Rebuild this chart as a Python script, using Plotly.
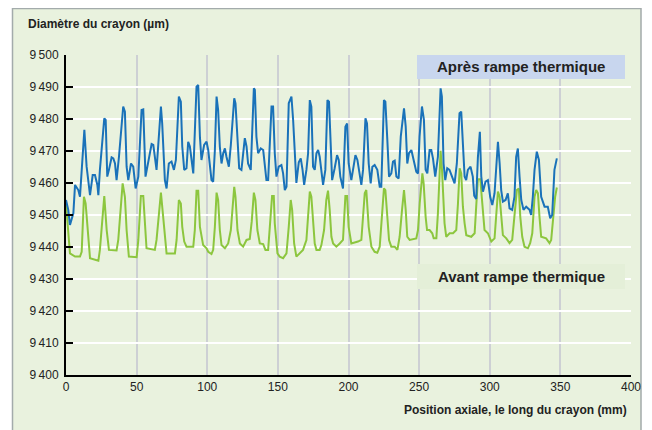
import plotly.graph_objects as go

# Position axiale (mm) et diamètre (µm) — après rampe thermique
apres_x = [0, 1.6, 2.8, 5.2, 6.4, 8.7, 9.9, 11.1, 13, 14.6, 15.8, 17, 18.9, 20.5, 22.2, 22.9, 24, 27.1, 28.1, 29.2,
           30.4, 32.3, 33.5, 34.7, 35.8, 37.5, 40.5, 41.7, 42.9, 44.1, 46, 47.6, 49.3, 51.2, 53.5, 54.7, 56.3, 58.2,
           60.6, 61.8, 62.9, 64.1, 67.2, 68.1, 70, 71.2, 72.8, 74.7, 76.4, 77.8, 79.9, 81.3, 82.3, 83.7, 85.3, 86.5,
           87.7, 88.9, 90.1, 92.4, 93.6, 94.8, 95.9, 97.8, 99.5, 100.7, 101.8, 103, 104.2, 105.4, 106.6, 107.7, 108.9,
           110.1, 111.3, 112.5, 113.6, 115.3, 116.7, 119.1, 120, 121.2, 122.6, 124.2, 125.4, 126.6, 127.8, 128.9,
           130.8, 133, 133.7, 134.8, 136, 137.9, 139.6, 140.7, 141.9, 143.1, 145.5, 146.6, 147.8, 149, 150.6, 152.5,
           153.7, 154.9, 156.1, 157.7, 159.6, 160.8, 162, 163.1, 164.8, 166.2, 167.5, 168.6, 170.2, 171.4, 172.6,
           173.7, 174.9, 176.1, 177.3, 178.5, 179.6, 180.8, 182, 183.6, 185.1, 186.2, 187.4, 188.4, 190.2, 191.9,
           193.1, 194.2, 196.1, 197.8, 199, 200.1, 202, 203.2, 204.9, 206.3, 207.9, 209.1, 210.3, 212, 213.1, 214.3,
           215.7, 216.9, 218.5, 220.4, 222.1, 223.2, 225.1, 226.1, 227.5, 228.7, 230.3, 231.5, 232.7, 233.9, 235.5,
           237, 239.3, 240.5, 241.6, 242.8, 244.5, 245.6, 246.8, 248, 249.2, 250.3, 252, 253.4, 254.6, 255.8, 257.4,
           258.6, 259.8, 261.4, 263.3, 265.2, 266.1, 267.3, 268.5, 269.9, 271.5, 273.2, 275.1, 276.7, 278.6, 279.8,
           281, 282.2, 283.3, 284.5, 286.4, 288, 289, 290.4, 291.6, 293, 294, 295.2, 297, 298.7, 300.3, 301.8, 303.4,
           304.6, 305.8, 307, 308.1, 309.3, 311.2, 312.8, 314, 315.9, 317.5, 318.7, 319.9, 321.1, 322.3, 323.9,
           325.8, 328.2, 329.3, 330.5, 331.7, 333.3, 334.8, 336.4, 338.8, 341.1, 342.8, 344.2, 345.8, 347.5]
apres_y = [9454.7, 9451.6, 9446.9, 9450.5, 9459.4, 9457.8, 9455.7, 9463, 9476.6, 9465.1, 9460.9, 9456.2, 9462.5,
           9462.5, 9459.4, 9456.2, 9464.1, 9480.2, 9479.7, 9462, 9464.1, 9468, 9467.7, 9466.1, 9460.9, 9468.2,
           9483.9, 9482.3, 9465.1, 9460.9, 9466.1, 9465.1, 9458.3, 9462, 9482.8, 9483, 9462, 9466.1, 9472.2, 9471.9,
           9467.2, 9464.1, 9483.9, 9478.6, 9460.9, 9458.3, 9466.1, 9466.7, 9464.1, 9467.2, 9487, 9485.4, 9471.4,
           9464.1, 9464.6, 9472.9, 9471.4, 9466.1, 9463, 9490.1, 9490.6, 9474.5, 9467.2, 9471.9, 9472.9, 9470.3,
           9465.1, 9460.9, 9460.4, 9470.3, 9487, 9482.8, 9471.4, 9466.1, 9469.3, 9470.8, 9468.2, 9465.1, 9471.9,
           9486.5, 9484.9, 9474.5, 9464.6, 9464.1, 9469.8, 9474, 9471.4, 9466.1, 9464.1, 9489.6, 9489.1, 9474.5,
           9469.3, 9470.8, 9470.3, 9466.1, 9460.9, 9460.9, 9483.9, 9483.9, 9469.3, 9462, 9465.1, 9465.6, 9463,
           9457.8, 9458.8, 9484.9, 9487, 9479.7, 9469.3, 9460, 9466.5, 9467.7, 9464, 9459.4, 9464.1, 9469.3, 9485.9,
           9483.9, 9465.1, 9464.1, 9469.3, 9470.3, 9468.2, 9463, 9459.4, 9464.1, 9485.9, 9485.4, 9469.3, 9460.9,
           9464.6, 9468.7, 9467.2, 9462, 9458.3, 9477.6, 9478.6, 9466.1, 9460.9, 9464.1, 9468.7, 9467.2, 9462,
           9459.4, 9464.1, 9480.2, 9478.6, 9466.1, 9459.9, 9465.1, 9465.6, 9464.1, 9458.8, 9458.8, 9485.9, 9485.4,
           9473.4, 9462, 9463, 9466.7, 9467, 9462, 9461.4, 9474.5, 9483.3, 9477.6, 9466.1, 9469.3, 9470.3, 9468,
           9466, 9463.5, 9463, 9474.5, 9483.9, 9479.7, 9464.1, 9463, 9470.3, 9470.3, 9467.7, 9462, 9468.2, 9489.6,
           9487, 9466.1, 9460.9, 9464.6, 9464.1, 9462, 9459.9, 9466.1, 9481.8, 9482.3, 9472.4, 9462, 9460.9, 9464.1,
           9465.1, 9462, 9456, 9455, 9468, 9476, 9462, 9457.3, 9460.4, 9460.9, 9455.7, 9453.1, 9456.8, 9464.1,
           9472.9, 9466.1, 9457.8, 9454.2, 9454.7, 9456.8, 9452.1, 9451.6, 9455.7, 9468.2, 9470.8, 9462, 9454.7,
           9451.6, 9452.6, 9451.6, 9450, 9455.7, 9464.1, 9469.8, 9467.2, 9455.7, 9452.6, 9452.6, 9449, 9450,
           9464.1, 9467.7]

# Avant rampe thermique
avant_x = [0, 2.8, 6.4, 9.9, 11.1, 12.7, 13.9, 15.1, 17, 22.9, 24, 27.1, 28.8, 30.4, 35.8, 37, 40.1, 41.7, 42.9,
           44.5, 50, 51.2, 53, 54.7, 55.9, 57, 62.9, 64.1, 67.2, 68.8, 71.2, 77.1, 78.3, 79.9, 81.3, 82.3, 83.7,
           85.3, 90.1, 91.2, 92.4, 93.6, 94.8, 97.1, 99.5, 100.7, 103, 104.2, 105.4, 106.6, 107.7, 108.9, 110.1,
           112.5, 114.8, 116.7, 119.1, 120, 121.4, 123.1, 125.4, 127.8, 130.1, 131.5, 133, 134.1, 135.5, 137.2,
           139.6, 141.2, 143.1, 144.3, 145.9, 147.1, 147.8, 149.7, 151.3, 153.7, 156.1, 157.7, 159.1, 160.1, 161.5,
           163.1, 165.5, 167.8, 170.2, 171.4, 172.6, 173.7, 174.9, 176.1, 177.3, 179.6, 180.8, 182.7, 184.3, 185.5,
           186.7, 187.9, 189.1, 191.4, 193.8, 196.1, 197.8, 199, 200.1, 202, 206.7, 209.1, 211.5, 212.6, 214.3,
           216.2, 218.5, 220.4, 222.1, 223.7, 225.1, 226.1, 227.5, 228.7, 230.3, 232.7, 234.6, 236.2, 237.9, 239.3,
           240.5, 241.6, 243.3, 248, 249.2, 250.4, 252.3, 253.2, 254.6, 255.6, 257.4, 259.3, 260.3, 262.2, 263.3,
           264.5, 265.2, 266.2, 266.9, 268, 269.2, 271.6, 274, 276.3, 277.5, 278.7, 279.8, 281, 282.2, 283.4, 286.9,
           289.3, 290.4, 291.6, 293.3, 294.7, 295.6, 296.3, 298.7, 301.1, 303.4, 304.6, 305.8, 307, 308.1, 309.3,
           311.7, 314, 315.9, 317.5, 319.2, 320.6, 321.6, 323, 324.6, 327, 328.6, 330.1, 331.7, 332.9, 334.1, 335.2,
           336.4, 339.9, 342.3, 343.5, 345.1, 346.3, 347.5]
avant_y = [9453.6, 9438, 9437, 9437, 9438.5, 9455.7, 9453.6, 9446.3, 9436.5, 9435.7, 9439.1, 9455.9, 9445.3,
           9439.1, 9438.9, 9442.2, 9459.9, 9455.7, 9445.3, 9437, 9436.8, 9442.2, 9455.9, 9455.9, 9445.3, 9439.6,
           9439.1, 9442.2, 9457, 9448.4, 9438, 9438, 9442.2, 9454.7, 9453.6, 9446.3, 9441.7, 9440.1, 9440.1, 9445.3,
           9457.6, 9457.6, 9446.3, 9440.6, 9439.6, 9438.5, 9437.8, 9439.1, 9446.3, 9457, 9454.7, 9445.3, 9440.6,
           9439.6, 9441.1, 9445.3, 9458.8, 9455.7, 9445.3, 9441.1, 9440.1, 9442.2, 9442.5, 9448, 9457, 9454.7,
           9445.3, 9441.1, 9440.9, 9439.1, 9439.1, 9446.3, 9455.9, 9455.9, 9447.4, 9438, 9437, 9436.5, 9438, 9446.3,
           9454.7, 9451.6, 9441.1, 9437, 9438, 9439.1, 9442.2, 9448.4, 9457.3, 9455.7, 9446.3, 9441.1, 9439.1,
           9439.1, 9440.6, 9445.3, 9454.7, 9457.6, 9451.6, 9443.2, 9441.1, 9440.1, 9441.1, 9442.2, 9455.9, 9455.9,
           9446.3, 9441.1, 9441.7, 9442.2, 9456.8, 9457.8, 9446.3, 9440.1, 9438.5, 9438.2, 9440.1, 9448.4, 9458.3,
           9457.8, 9447.4, 9442.2, 9440.1, 9440.1, 9439.1, 9443.2, 9451.6, 9457.8, 9451.6, 9443.2, 9442.2, 9442.7,
           9445.3, 9453.6, 9463, 9459.9, 9449.5, 9445.3, 9445.3, 9444.3, 9442.7, 9442.7, 9450.5, 9464.1, 9470.1,
           9464.1, 9455.7, 9447.4, 9443.2, 9444.3, 9444.3, 9445.3, 9453.6, 9464.6, 9463, 9452.6, 9447.4, 9443.7,
           9443.2, 9444.3, 9452.6, 9461.2, 9461.2, 9452.6, 9446.4, 9445.3, 9444.3, 9441.7, 9442.7, 9449.5, 9457.3,
           9455.7, 9449.5, 9443.7, 9442.7, 9441.2, 9442.2, 9450.5, 9457.8, 9458.3, 9449.5, 9443.2, 9440.1, 9439.6,
           9441.2, 9444.3, 9455.7, 9457.8, 9456.8, 9449.5, 9443.2, 9442.7, 9441.2, 9442.2, 9449.5, 9455.7, 9458.6]

y_ticks = [9400, 9410, 9420, 9430, 9440, 9450, 9460, 9470, 9480, 9490, 9500]
y_tick_labels = ["9\u2009400", "9\u2009410", "9\u2009420", "9\u2009430", "9\u2009440", "9\u2009450",
                 "9\u2009460", "9\u2009470", "9\u2009480", "9\u2009490", "9\u2009500"]
x_ticks = [0, 50, 100, 150, 200, 250, 300, 350, 400]

FONT = "Liberation Sans, Arial, sans-serif"
BLUE = "#1a72b9"
GREEN = "#8cc63e"

fig = go.Figure()
fig.add_trace(go.Scatter(x=avant_x, y=avant_y, mode="lines", line=dict(color=GREEN, width=2),
                         name="Avant rampe thermique", showlegend=False))
fig.add_trace(go.Scatter(x=apres_x, y=apres_y, mode="lines", line=dict(color=BLUE, width=2),
                         name="Après rampe thermique", showlegend=False))

# The page body has an 8px margin: figure is offset by (8, 8) in the window.
OFF = 8
W, H = 652 - OFF, 430 - OFF
L, T = 66 - OFF, 55 - OFF
R = W - (631 - OFF)
B = H - (375 - OFF)
pw, ph = W - L - R, H - T - B


def px(x):
    # window pixel -> paper coordinate
    return (x - OFF - L) / pw


def py(y):
    return (H - B - (y - OFF)) / ph


shapes = [
    dict(type="rect", xref="paper", yref="paper", x0=px(12.5), x1=px(641), y0=py(440), y1=py(8.5),
         fillcolor="#e9f2de", line=dict(color="#a3abab", width=1.5), layer="below"),
    dict(type="rect", xref="paper", yref="paper", x0=px(417), x1=px(625), y0=py(79), y1=py(55),
         fillcolor="#c8d6ee", line=dict(width=0), layer="above"),
    dict(type="rect", xref="paper", yref="paper", x0=px(417), x1=px(625), y0=py(289), y1=py(264),
         fillcolor="#e4efd8", line=dict(width=0), layer="above"),
]

annotations = [
    dict(text="<b>Diamètre du crayon (µm)</b>", xref="paper", yref="paper", x=px(26), y=py(24),
         xanchor="left", yanchor="middle", showarrow=False, font=dict(family=FONT, size=12, color="#222")),
    dict(text="<b>Position axiale, le long du crayon (mm)</b>", xref="paper", yref="paper", x=px(629), y=py(410),
         xanchor="right", yanchor="middle", showarrow=False, font=dict(family=FONT, size=12, color="#222")),
    dict(text="<b>Après rampe thermique</b>", xref="paper", yref="paper", x=px(521), y=py(67),
         xanchor="center", yanchor="middle", showarrow=False, font=dict(family=FONT, size=15, color="#222")),
    dict(text="<b>Avant rampe thermique</b>", xref="paper", yref="paper", x=px(521), y=py(276.5),
         xanchor="center", yanchor="middle", showarrow=False, font=dict(family=FONT, size=15, color="#222")),
]

fig.update_layout(
    width=W, height=H,
    margin=dict(l=L, r=R, t=T, b=B),
    paper_bgcolor="white",
    plot_bgcolor="#d6e0e7",
    font=dict(family=FONT, size=12, color="#222"),
    shapes=shapes,
    annotations=annotations,
    xaxis=dict(range=[0, 400], tickvals=x_ticks, showgrid=True, gridcolor="#cdd0d4", gridwidth=2,
               showline=True, linecolor="black", linewidth=2, ticks="", zeroline=False,
               tickfont=dict(family=FONT, size=12, color="#222"), fixedrange=True),
    yaxis=dict(range=[9400, 9500], tickvals=y_ticks, ticktext=y_tick_labels, showgrid=True,
               gridcolor="white", gridwidth=2, showline=True, linecolor="black", linewidth=2,
               ticks="inside", ticklen=7, tickwidth=2, tickcolor="black", zeroline=False,
               ticklabelstandoff=3,
               tickfont=dict(family=FONT, size=12, color="#222"), fixedrange=True),
)

fig.write_html("out.html")
